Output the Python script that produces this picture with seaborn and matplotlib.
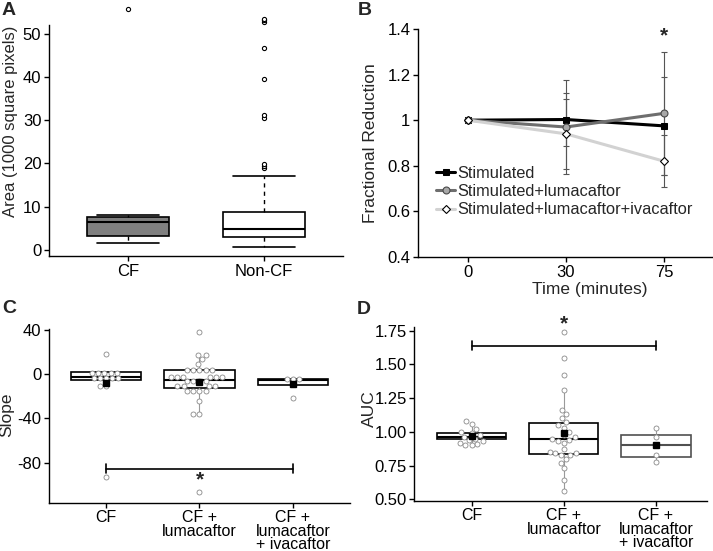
import numpy as np
import pandas as pd
import matplotlib
matplotlib.use('Agg')
import matplotlib.pyplot as plt
import seaborn as sns

sns.set_style('ticks')
plt.rcParams['font.family'] = ['Liberation Sans', 'DejaVu Sans']
plt.rcParams['axes.unicode_minus'] = False
plt.rcParams['font.size'] = 12
plt.rcParams['axes.linewidth'] = 1.0
plt.rcParams['axes.edgecolor'] = 'black'
plt.rcParams['xtick.color'] = 'black'
plt.rcParams['ytick.color'] = 'black'
plt.rcParams['xtick.major.size'] = 3.5
plt.rcParams['ytick.major.size'] = 3.5
plt.rcParams['xtick.major.width'] = 1.0
plt.rcParams['ytick.major.width'] = 1.0

# ---------------- Panel A: box summaries
a_groups = ['CF', 'Non-CF']
a_q1 = [3.2, 3.0]
a_med = [6.4, 4.9]
a_q3 = [7.5, 8.7]
a_whislo = [1.5, 0.7]
a_whishi = [8.0, 17.0]
a_fliers = [[55.6],
            [18.9, 19.4, 19.8, 30.5, 31.1, 39.5, 46.7, 52.8, 53.2, 53.5]]
a_fill = ['#808080', 'white']

# ---------------- Panel B: fractional reduction over time
b_times = ['0', '30', '75']
b_series = ['Stimulated', 'Stimulated+lumacaftor', 'Stimulated+lumacaftor+ivacaftor']
b_stim = [1.0, 1.003, 0.975]
b_stim_err = [0.0, 0.115, 0.215]
b_luma = [1.0, 0.97, 1.03]
b_luma_err = [0.0, 0.205, 0.27]
b_iva = [1.0, 0.94, 0.82]
b_iva_err = [0.0, 0.155, 0.115]

# ---------------- Panel C: slope
cd_groups = ['CF', 'CF +\nlumacaftor', 'CF +\nlumacaftor\n+ ivacaftor']
c_cf = [18.5, 1.5, 1.5, 1.5, 1.5, 1.5, -3.6, -3.6, -3.6, -3.6, -3.6, -10.7, -10.7, -93]
c_luma = [38, 17.6, 17.6, 13.6, 9.1, 3.9, 3.9, 3.9, 3.9, 3.9,
          -2.1, -2.1, -2.1, -2.1, -2.1, -2.1, -6.1, -6.1, -6.1, -6.1,
          -10.7, -10.7, -10.7, -10.7, -14.9, -14.9, -14.9, -14.9,
          -24.6, -36.4, -36.4, -107]
c_iva = [-4.6, -4.6, -4.6, -21.4]
c_q1 = [-5.2, -12.8, -9.7]
c_med = [-2.5, -4.9, -5.0]
c_q3 = [1.8, 3.6, -4.3]
c_whislo = [-10.7, -36.4, -9.7]
c_whishi = [1.5, 17.6, -4.3]

# ---------------- Panel D: AUC
d_cf = [1.08, 1.06, 1.02, 1.00, 0.99, 0.98, 0.96, 0.95, 0.94, 0.93, 0.92, 0.91, 0.90, 0.90]
d_luma = [1.74, 1.55, 1.42, 1.31, 1.16, 1.13, 1.10, 1.07, 1.05, 1.03, 1.00, 0.98, 0.96, 0.95,
          0.94, 0.93, 0.92, 0.87, 0.85, 0.84, 0.84, 0.83, 0.83, 0.80, 0.77, 0.73, 0.64, 0.56]
d_iva = [1.03, 0.96, 0.83, 0.78]
d_q1 = [0.945, 0.838, 0.816]
d_med = [0.964, 0.945, 0.90]
d_q3 = [0.994, 1.064, 0.977]
d_whislo = [0.90, 0.56, 0.78]
d_whishi = [1.06, 1.31, 1.03]
d_edge = ['black', 'black', '#505050']

c_bracket_y = -85.7
d_bracket_y = 1.64

fig = plt.figure(figsize=(7.13, 5.51), dpi=100)
ax_a = fig.add_axes([0.0687, 0.5354, 0.4123, 0.4192])
ax_b = fig.add_axes([0.5863, 0.5336, 0.4123, 0.4138])
ax_c = fig.add_axes([0.0687, 0.0877, 0.4222, 0.3152])
ax_d = fig.add_axes([0.5811, 0.0913, 0.4101, 0.3158])

# ---------------- A
stats = []
for i in range(len(a_groups)):
    stats.append(dict(med=a_med[i], q1=a_q1[i], q3=a_q3[i],
                      whislo=a_whislo[i], whishi=a_whishi[i], fliers=a_fliers[i]))
bp = ax_a.bxp(stats, positions=range(len(a_groups)), widths=0.6, capwidths=0.45,
              patch_artist=True,
              boxprops=dict(edgecolor='black', linewidth=1.2),
              medianprops=dict(color='black', linewidth=1.5),
              whiskerprops=dict(color='black', linewidth=1.0, linestyle=(0, (3, 3))),
              capprops=dict(color='black', linewidth=1.2),
              flierprops=dict(marker='o', markersize=3, markerfacecolor='white',
                              markeredgecolor='black', markeredgewidth=0.8))
for patch, fc in zip(bp['boxes'], a_fill):
    patch.set_facecolor(fc)
for fl in bp['fliers']:
    fl.set_clip_on(False)
ax_a.set_xlim(-0.58, 1.58)
ax_a.set_ylim(-1.4, 52)
ax_a.set_yticks([0, 10, 20, 30, 40, 50])
ax_a.set_xticks(range(len(a_groups)))
ax_a.set_xticklabels(a_groups)
ax_a.set_ylabel('Area (1000 square pixels)')

# ---------------- B
b_x = np.arange(len(b_times))
b_vals = [b_stim, b_luma, b_iva]
b_errs = [b_stim_err, b_luma_err, b_iva_err]
for vals, errs in zip(b_vals, b_errs):
    ax_b.errorbar(b_x, vals, yerr=errs, fmt='none', ecolor='#555555',
                  elinewidth=0.8, capsize=2.2, capthick=0.8, zorder=1)
sns.lineplot(x=b_x, y=b_stim, ax=ax_b, color='black', lw=2.2, marker='s',
             markersize=4.5, markeredgecolor='black', label=b_series[0], zorder=3)
sns.lineplot(x=b_x, y=b_luma, ax=ax_b, color='#6e6e6e', lw=2.2, marker='o',
             markersize=5, markerfacecolor='#a8a8a8', markeredgecolor='#4a4a4a',
             markeredgewidth=0.8, label=b_series[1], zorder=4)
sns.lineplot(x=b_x, y=b_iva, ax=ax_b, color='#d2d2d2', lw=2.2, marker='D',
             markersize=4, markerfacecolor='white', markeredgecolor='black',
             markeredgewidth=0.8, label=b_series[2], zorder=5)
ax_b.text(2, 1.37, '*', ha='center', va='center', fontsize=15, fontweight='bold')
ax_b.set_xlim(-0.51, 2.49)
ax_b.set_ylim(0.4, 1.4)
ax_b.set_xticks(b_x)
ax_b.set_xticklabels(b_times)
ax_b.set_yticks([0.4, 0.6, 0.8, 1.0, 1.2, 1.4])
ax_b.set_yticklabels(['0.4', '0.6', '0.8', '1', '1.2', '1.4'])
ax_b.set_ylabel('Fractional Reduction')
ax_b.set_xlabel('Time (minutes)')
ax_b.legend(loc='upper left', bbox_to_anchor=(0.06, 0.40), frameon=False,
            handlelength=1.2, handletextpad=0.1, borderpad=0, labelspacing=0.2,
            fontsize=11.8, borderaxespad=0)


def dot_box(ax, groups, points, q1, med, q3, lo, hi, edges):
    pos = np.arange(len(groups))
    st = [dict(med=med[i], q1=q1[i], q3=q3[i], whislo=lo[i], whishi=hi[i], fliers=[])
          for i in range(len(groups))]
    bp = ax.bxp(st, positions=pos, widths=0.75, patch_artist=True, showcaps=False,
                showfliers=False,
                boxprops=dict(facecolor='white', edgecolor='black', linewidth=1.2),
                medianprops=dict(color='black', linewidth=1.5),
                whiskerprops=dict(color='#9a9a9a', linewidth=0.8))
    for patch, ec in zip(bp['boxes'], edges):
        patch.set_edgecolor(ec)
    for i, m in enumerate(bp['medians']):
        m.set_color(edges[i])
    df = pd.DataFrame({'group': np.repeat(groups, [len(p) for p in points]),
                       'value': np.concatenate(points)})
    sns.swarmplot(data=df, x='group', y='value', order=groups, ax=ax, color='white',
                  edgecolor='#8a8a8a', linewidth=0.6, size=3.6, zorder=3)
    means = [np.mean(p) for p in points]
    ax.plot(pos, means, ls='none', marker='s', color='black', markersize=4.2, zorder=5)
    ax.set_xlabel('')


dot_box(ax_c, cd_groups, [c_cf, c_luma, c_iva], c_q1, c_med, c_q3, c_whislo, c_whishi,
        ['black', 'black', 'black'])
ax_c.plot([0, 2], [c_bracket_y, c_bracket_y], color='black', lw=1.2)
ax_c.plot([0, 0], [c_bracket_y - 4, c_bracket_y + 4], color='black', lw=1.2)
ax_c.plot([2, 2], [c_bracket_y - 4, c_bracket_y + 4], color='black', lw=1.2)
ax_c.text(1, -96, '*', ha='center', va='center', fontsize=15, fontweight='bold')
ax_c.set_xlim(-0.61, 2.61)
ax_c.set_ylim(-116.4, 41)
ax_c.set_yticks([40, 0, -40, -80])
ax_c.set_yticklabels(['40', '0', '-40', '-80'])
ax_c.set_ylabel('Slope')

dot_box(ax_d, cd_groups, [d_cf, d_luma, d_iva], d_q1, d_med, d_q3, d_whislo, d_whishi,
        d_edge)
ax_d.plot([0, 2], [d_bracket_y, d_bracket_y], color='black', lw=1.2)
ax_d.plot([0, 0], [d_bracket_y - 0.033, d_bracket_y + 0.033], color='black', lw=1.2)
ax_d.plot([2, 2], [d_bracket_y - 0.033, d_bracket_y + 0.033], color='black', lw=1.2)
ax_d.text(1, 1.80, '*', ha='center', va='center', fontsize=15, fontweight='bold')
ax_d.set_xlim(-0.62, 2.55)
ax_d.set_ylim(0.49, 1.78)
ax_d.set_yticks([0.5, 0.75, 1.0, 1.25, 1.5, 1.75])
ax_d.set_yticklabels(['0.50', '0.75', '1.00', '1.25', '1.50', '1.75'])
ax_d.set_ylabel('AUC')

for ax in [ax_c, ax_d]:
    ax.set_xticks(range(len(cd_groups)))
    ax.set_xticklabels(cd_groups, linespacing=0.85, fontsize=11.5)

for ax in [ax_a, ax_b, ax_c, ax_d]:
    sns.despine(ax=ax)
    ax.tick_params(labelsize=12, pad=2)
    ax.yaxis.label.set_size(12.5)
    ax.xaxis.label.set_size(12.5)
for ax in [ax_c, ax_d]:
    ax.tick_params(axis='x', labelsize=11.5)

ax_a.yaxis.label.set_size(12)
ax_a.yaxis.set_label_coords(-0.105, 0.585)
ax_b.yaxis.set_label_coords(-0.135, 0.5)
ax_b.xaxis.set_label_coords(0.583, -0.11)
ax_c.yaxis.set_label_coords(-0.116, 0.505)
ax_d.yaxis.set_label_coords(-0.128, 0.53)

fig.text(0.002, 0.997, 'A', fontsize=14, fontweight='bold', va='top')
fig.text(0.502, 0.997, 'B', fontsize=14, fontweight='bold', va='top')
fig.text(0.003, 0.456, 'C', fontsize=14, fontweight='bold', va='top')
fig.text(0.501, 0.453, 'D', fontsize=14, fontweight='bold', va='top')

fig.savefig('out.png', dpi=100)
